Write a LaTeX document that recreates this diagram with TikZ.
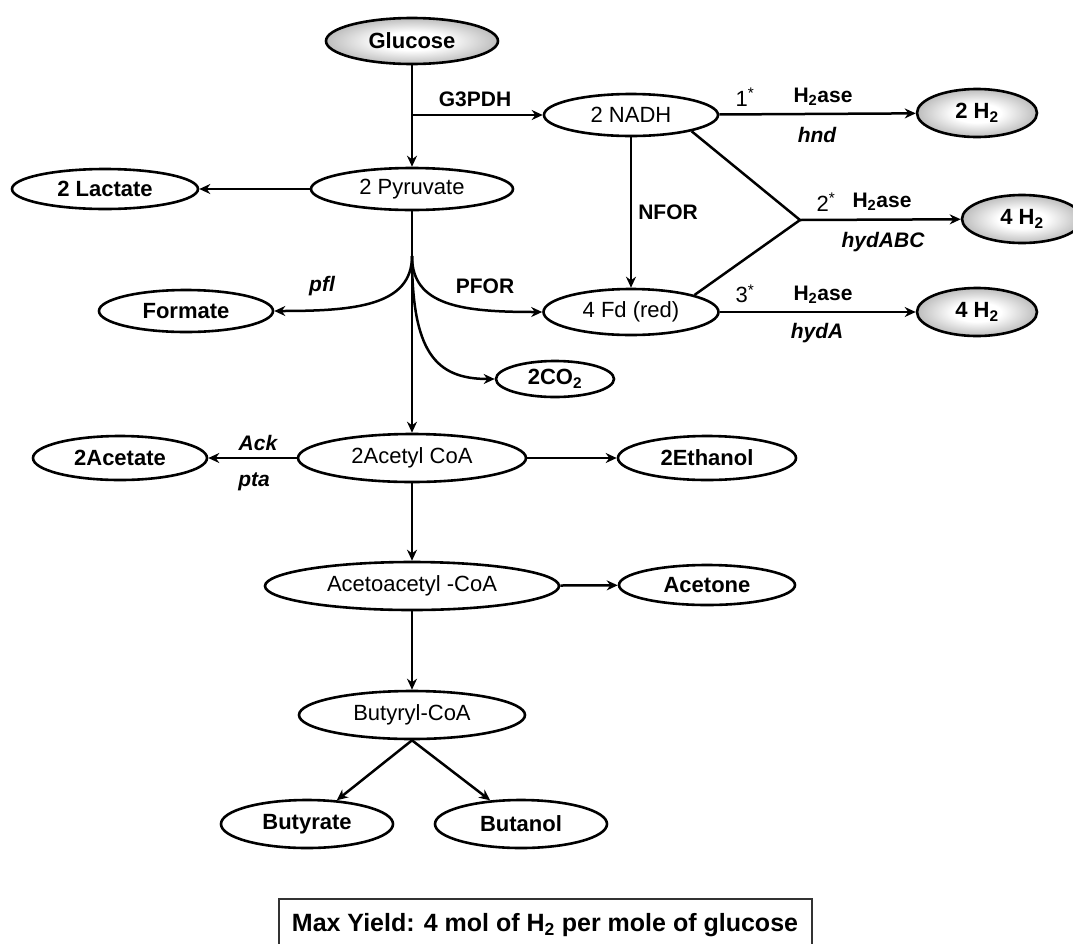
\documentclass[tikz,border=0pt]{standalone}
\usepackage{fontspec}
\setmainfont{Liberation Sans}
\usetikzlibrary{arrows.meta,shapes.geometric}
\pgfdeclareradialshading{gasshade}{\pgfpoint{0bp}{0bp}}{color(0bp)=(white); color(10bp)=(white); color(36bp)=(black!45); color(50bp)=(black!50)}

\begin{document}
\begin{tikzpicture}[x=1pt,y=-1pt,line width=2.5pt,
    >={Stealth[length=11pt,width=10pt]},
    every node/.style={font=\fontsize{22}{26}\selectfont},
    met/.style={draw,ellipse,inner sep=0pt,line width=2.6pt},
    prod/.style={met,font=\fontsize{22}{26}\selectfont\bfseries},
    gas/.style={prod,shading=gasshade},
    enz/.style={font=\fontsize{21}{26}\selectfont\bfseries},
    gene/.style={font=\fontsize{21}{26}\selectfont\bfseries\itshape}]
    %%%%% START %%%%%
    \useasboundingbox (0,0) rectangle (1073,943);

    \node[gas, minimum width=172pt, minimum height=46pt] (glu) at (412,41) {Glucose};
    \node[met, minimum width=174pt, minimum height=42pt] (nadh) at (631,115) {2 NADH};
    \node[gas, minimum width=120pt, minimum height=48pt] (h2a) at (977,113) {2 H\textsubscript{2}};
    \node[prod, minimum width=186pt, minimum height=40pt] (lac) at (105,189) {2 Lactate};
    \node[met, minimum width=202pt, minimum height=42pt] (pyr) at (412,189) {2 Pyruvate};
    \node[gas, minimum width=120pt, minimum height=48pt] (h2b) at (1022,219) {4 H\textsubscript{2}};
    \node[met, minimum width=175pt, minimum height=46pt] (fd) at (631,312) {4 Fd (red)};
    \node[gas, minimum width=120pt, minimum height=48pt] (h2c) at (977,312) {4 H\textsubscript{2}};
    \node[prod, minimum width=174pt, minimum height=42pt] (form) at (186,311) {Formate};
    \node[prod, minimum width=118pt, minimum height=36pt] (co2) at (555,379) {2CO\textsubscript{2}};
    \node[prod, minimum width=174pt, minimum height=44pt] (acet) at (120,458) {2Acetate};
    \node[met, minimum width=228pt, minimum height=48pt] (acoa) at (412,458) {2Acetyl CoA};
    \node[prod, minimum width=178pt, minimum height=44pt] (etoh) at (707,458) {2Ethanol};
    \node[met, minimum width=294pt, minimum height=48pt] (aaco) at (412,586) {Acetoacetyl -CoA};
    \node[prod, minimum width=176pt, minimum height=40pt] (acone) at (707,585) {Acetone};
    \node[met, minimum width=226pt, minimum height=48pt] (bcoa) at (412,715) {Butyryl-CoA};
    \node[prod, minimum width=172pt, minimum height=48pt] (butr) at (307,824) {Butyrate};
    \node[prod, minimum width=172pt, minimum height=48pt] (buol) at (521,824) {Butanol};

    % glycolysis
    \coordinate (g3) at (412,115);
    \draw[->] (glu) -- (pyr);
    \draw[->] (g3) -- (nadh);
    \node[enz] (g3lab) at (475,99) {G3PDH};
    \draw[->] (pyr) -- (lac);

    % hydrogenases
    \draw[->] (nadh) -- (h2a);
    \node (n1) at (745,97) {1\textsuperscript{*}};
    \node[enz] (hase1) at (823,97) {H\textsubscript{2}ase};
    \node[gene] (hnd) at (817,135) {hnd};
    \draw[->] (nadh) -- (fd);
    \node[enz] (nfor) at (668,212) {NFOR};
    \coordinate (jn) at (800,220);
    \draw (nadh.-15) -- (jn) -- (fd.15);
    \draw[->] (jn) -- (h2b);
    \node (n2) at (826,202) {2\textsuperscript{*}};
    \node[enz] (hase2) at (882,202) {H\textsubscript{2}ase};
    \node[gene] (hydabc) at (883,242) {hydABC};
    \draw[->] (fd) -- (h2c);
    \node (n3) at (745,294) {3\textsuperscript{*}};
    \node[enz] (hase3) at (823,295) {H\textsubscript{2}ase};
    \node[gene] (hyda) at (817,333) {hydA};

    % pyruvate split
    \coordinate (br) at (412,256);
    \draw[->] (pyr) -- (acoa);
    \draw[->] (br) .. controls +(0,50) and +(80,0) .. (form.east);
    \draw[->] (br) .. controls +(0,50) and +(-80,0) .. (fd.west);
    \draw[->] (br) .. controls +(0,95) and +(-60,0) .. (co2.west);
    \node[gene] (pfl) at (322,286) {pfl};
    \node[enz] (pfor) at (485,286) {PFOR};

    % acetyl-CoA
    \draw[->] (acoa) -- (acet);
    \node[gene] (ack) at (258,443) {Ack};
    \node[gene] (pta) at (254,482) {pta};
    \draw[->] (acoa) -- (etoh);
    \draw[->] (acoa) -- (aaco);
    \draw[->] (aaco) -- (acone);
    \draw[->] (aaco) -- (bcoa);
    \draw[->] (bcoa.south) -- (butr);
    \draw[->] (bcoa.south) -- (buol);

    % yield
    \draw[line width=1.6pt, black!80] (279,899) rectangle (812,965);
    \node[font=\fontsize{25}{30}\selectfont\bfseries] (yield) at (545,925) {Max Yield: 4 mol of H\textsubscript{2} per mole of glucose};
    %%%%% END %%%%%
\end{tikzpicture}
\end{document}
